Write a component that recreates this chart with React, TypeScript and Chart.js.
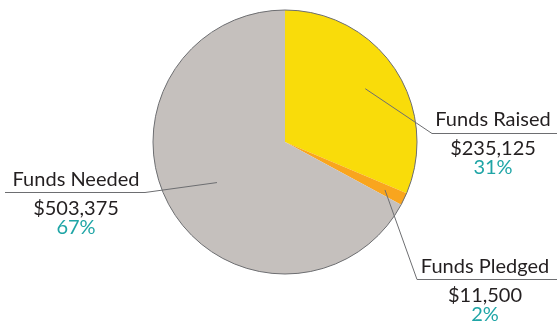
import { useEffect, useRef } from "react";
import { Chart, registerables } from "chart.js";

Chart.register(...registerables);

const categories = ["Funds Raised", "Funds Pledged", "Funds Needed"];
const amounts = [235125, 11500, 503375];
const amountLabels = ["$235,125", "$11,500", "$503,375"];
const percentLabels = ["31%", "2%", "67%"];
const sliceColors = ["#F9DC0A", "#F9A51E", "#C5C0BD"];

// Callout placement for each slice: text centre, name baseline, underline, leader start radius
const calloutLayout = [
  { cx: 493, base: 126, lineY: 133.5, x0: 432, x1: 557, attachX: 432, r: 0.73 },
  { cx: 485, base: 273, lineY: 279.5, x0: 417, x1: 557, attachX: 417, r: 0.84 },
  { cx: 76, base: 186, lineY: 192.5, x0: 5, x1: 145, attachX: 145, r: 0.6 },
];

const FONT = "Lato, 'Open Sans', sans-serif";
const INK = "#231F20";
const TEAL = "#1FA5A6";
const RULE = "#6D6E71";

const calloutPlugin = {
  id: "callouts",
  afterDatasetsDraw(chart: any) {
    const ctx = chart.ctx as CanvasRenderingContext2D;
    const meta = chart.getDatasetMeta(0);
    ctx.save();
    // outer rim of the pie
    const first = meta.data[0];
    if (first) {
      const p = first.getProps(["x", "y", "outerRadius"], true);
      ctx.beginPath();
      ctx.arc(p.x, p.y, p.outerRadius, 0, Math.PI * 2);
      ctx.strokeStyle = RULE;
      ctx.lineWidth = 1;
      ctx.stroke();
    }
    meta.data.forEach((arc: any, i: number) => {
      const L = calloutLayout[i];
      const p = arc.getProps(["x", "y", "startAngle", "endAngle", "outerRadius"], true);
      const mid = (p.startAngle + p.endAngle) / 2;
      const sx = p.x + Math.cos(mid) * p.outerRadius * L.r;
      const sy = p.y + Math.sin(mid) * p.outerRadius * L.r;
      ctx.beginPath();
      ctx.moveTo(sx, sy);
      ctx.lineTo(L.attachX, L.lineY);
      ctx.moveTo(L.x0, L.lineY);
      ctx.lineTo(L.x1, L.lineY);
      ctx.strokeStyle = RULE;
      ctx.lineWidth = 1;
      ctx.stroke();

      ctx.textAlign = "center";
      ctx.textBaseline = "alphabetic";
      ctx.fillStyle = INK;
      ctx.font = `20px ${FONT}`;
      ctx.fillText(categories[i], L.cx, L.base);
      ctx.fillText(amountLabels[i], L.cx, L.base + 29);
      ctx.fillStyle = TEAL;
      ctx.fillText(percentLabels[i], L.cx, L.base + 48);
    });
    ctx.restore();
  },
};

export default function App() {
  const canvasRef = useRef<HTMLCanvasElement>(null);

  useEffect(() => {
    document.body.style.margin = "0";
    const canvas = canvasRef.current;
    if (!canvas) return;
    const chart = new Chart(canvas, {
      type: "pie",
      data: {
        labels: categories,
        datasets: [
          {
            data: amounts,
            backgroundColor: sliceColors,
            borderWidth: 0,
          },
        ],
      },
      options: {
        responsive: false,
        maintainAspectRatio: false,
        animation: false,
        devicePixelRatio: 1,
        layout: { padding: { left: 153, right: 140, top: 10, bottom: 47 } },
        plugins: {
          legend: { display: false },
          tooltip: { enabled: false },
        },
      },
      plugins: [calloutPlugin],
    });
    if ((document as any).fonts?.load) {
      (document as any).fonts.load(`20px Lato`).then(() => chart.draw()).catch(() => {});
    }
    return () => chart.destroy();
  }, []);

  return (
    <div style={{ width: 557, height: 321, background: "#fff" }}>
      <canvas ref={canvasRef} width={557} height={321} />
    </div>
  );
}
